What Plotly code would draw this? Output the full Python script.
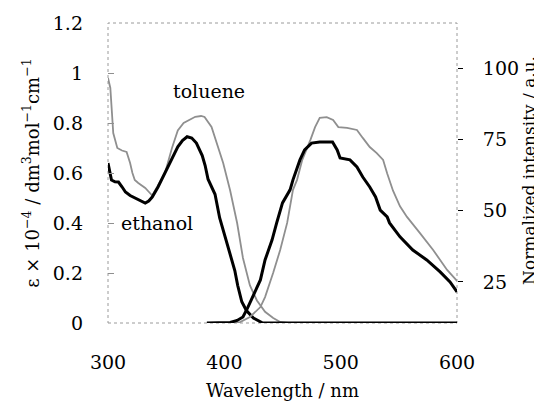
import plotly.graph_objects as go

# Absorption (left axis, eps x 10^-4)
eth_abs_nm = [300, 303, 306, 309, 312, 315, 319, 323, 328, 332, 335, 338, 343, 349, 355, 360, 364,
              368, 372, 376, 381, 383.5, 386, 392, 396, 403, 409, 411.5, 415, 419, 425, 433, 600]
eth_abs = [0.64, 0.572, 0.565, 0.564, 0.545, 0.524, 0.51, 0.50, 0.488, 0.48, 0.488, 0.504, 0.544,
           0.60, 0.655, 0.705, 0.73, 0.745, 0.74, 0.72, 0.67, 0.63, 0.575, 0.515, 0.42, 0.31, 0.21,
           0.15, 0.085, 0.05, 0.02, 0.0, 0.0]

tol_abs_nm = [300, 302, 303.4, 304.5, 308, 312, 316, 319, 321, 323, 326, 332, 336, 338, 343, 349,
              355, 360, 365, 369, 375, 380, 383, 389, 395, 399, 405, 411, 416, 422, 428, 435, 442,
              448, 455, 600]
tol_abs = [0.98, 0.94, 0.84, 0.76, 0.70, 0.69, 0.684, 0.64, 0.60, 0.572, 0.56, 0.54, 0.52, 0.51,
           0.55, 0.60, 0.70, 0.77, 0.80, 0.81, 0.825, 0.828, 0.824, 0.784, 0.70, 0.64, 0.53, 0.40,
           0.26, 0.15, 0.09, 0.045, 0.02, 0.004, 0.0, 0.0]

# Emission (right axis, normalized intensity)
eth_em_nm = [385, 400, 405, 411, 416, 420, 426, 431, 435, 441, 445, 450, 456.5, 459, 465, 469, 475,
             482, 488, 493, 497, 499.5, 508, 514, 519, 525, 530, 534, 540, 542, 551, 562, 574,
             585.5, 594, 600]
eth_em = [10.6, 10.6, 10.8, 11.5, 12.7, 15.9, 21.1, 25.7, 32.7, 39.7, 45.7, 52.7, 57.3, 60.8, 67.8,
          71.3, 73.7, 74.1, 74.1, 74.1, 71.3, 68.5, 67.8, 65.3, 61.8, 58.3, 54.8, 50.2, 47.8, 45.7,
          40.8, 36.2, 32.7, 28.5, 25.0, 21.5]

tol_em_nm = [395, 405, 413.5, 422, 431, 435, 442, 448, 454, 459, 462.5, 467, 474, 478, 482, 488,
             493.5, 498, 505.5, 514, 519, 525, 531, 536.5, 540, 545, 551, 557, 568, 579.5, 591.5, 600]
tol_em = [10.6, 10.6, 10.9, 12.7, 16.2, 19.7, 28.2, 36.2, 45.7, 57.3, 60.8, 67.8, 74.8, 79.3, 82.5,
          82.8, 81.8, 79.3, 79.0, 78.3, 75.5, 72.3, 70.2, 67.8, 63.0, 57.0, 51.5, 47.8, 42.2, 36.2,
          29.2, 25.4]

x_ticks = [300, 400, 500, 600]
y_ticks = [0, 0.2, 0.4, 0.6, 0.8, 1.0, 1.2]
y_ticktext = ["0", "0.2", "0.4", "0.6", "0.8", "1", "1.2"]
y2_ticks = [25, 50, 75, 100]

FONT = "DejaVu Serif"
GRAY = "#8f8f8f"

fig = go.Figure()
fig.add_trace(go.Scatter(x=tol_abs_nm, y=tol_abs, mode="lines", line=dict(color=GRAY, width=1.8),
                         name="toluene abs", showlegend=False))
fig.add_trace(go.Scatter(x=tol_em_nm, y=tol_em, mode="lines", line=dict(color=GRAY, width=1.8),
                         name="toluene em", yaxis="y2", showlegend=False))
fig.add_trace(go.Scatter(x=eth_abs_nm, y=eth_abs, mode="lines", line=dict(color="black", width=3),
                         name="ethanol abs", showlegend=False))
fig.add_trace(go.Scatter(x=eth_em_nm, y=eth_em, mode="lines", line=dict(color="black", width=3),
                         name="ethanol em", yaxis="y2", showlegend=False))

# page body has an 8px margin, so the figure is sized to fit inside the window
fig.update_layout(
    width=534, height=393,
    margin=dict(l=100, r=85, t=15, b=78),
    paper_bgcolor="white", plot_bgcolor="white",
    font=dict(family=FONT, size=19, color="black"),
    xaxis=dict(range=[300, 600], tickvals=x_ticks, showgrid=False, zeroline=False,
               showline=False, ticks="", ticklabelstandoff=26, automargin=False,
               title=dict(text="Wavelength / nm", font=dict(size=18), standoff=12)),
    yaxis=dict(range=[0, 1.2], tickvals=y_ticks, ticktext=y_ticktext, showgrid=False,
               zeroline=False, showline=False, ticks="inside", ticklen=6, tickcolor=GRAY,
               ticklabelstandoff=24, automargin=False,
               title=dict(text="ε × 10<sup>−4</sup> / dm<sup>3</sup>mol<sup>−1</sup>cm<sup>−1</sup>",
                          font=dict(size=18), standoff=8)),
    yaxis2=dict(range=[10.6, 115.8], overlaying="y", side="right", tickvals=y2_ticks,
                showgrid=False, zeroline=False, showline=False, ticks="outside", ticklen=5,
                tickcolor="black", ticklabelstandoff=16, automargin=False),
    shapes=[dict(type="rect", xref="paper", yref="paper", x0=0, x1=1, y0=0, y1=1,
                 line=dict(color="#9a9a9a", width=1, dash="dot"), layer="below")],
    annotations=[
        dict(x=387, y=0.93, xref="x", yref="y", text="toluene", showarrow=False,
             font=dict(size=19)),
        dict(x=342, y=0.40, xref="x", yref="y", text="ethanol", showarrow=False,
             font=dict(size=19)),
        dict(x=1.206, y=0.51, xref="paper", yref="paper", text="Normalized intensity / a.u.",
             textangle=-90, showarrow=False, xanchor="center", yanchor="middle",
             font=dict(size=17)),
    ],
)

fig.write_html("out.html")
